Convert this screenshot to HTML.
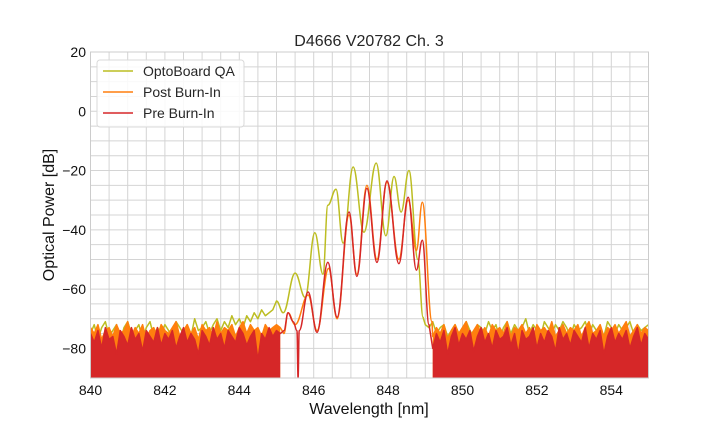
<!DOCTYPE html>
<html><head><meta charset="utf-8">
<style>
html,body{margin:0;padding:0;background:#fff;}
svg{display:block;font-family:"Liberation Sans",Arial,sans-serif;}
</style></head>
<body>
<svg id="chart" width="720" height="432" viewBox="0 0 720 432" xmlns="http://www.w3.org/2000/svg">
<defs><clipPath id="clip"><rect x="90.5" y="52" width="558" height="326"/></clipPath></defs>
<g id="grid"></g>
<g id="series" clip-path="url(#clip)"></g>
<rect x="90.5" y="52" width="558" height="326" fill="none" stroke="#cccccc" stroke-width="1"/>
<g id="ticks"></g>
<text x="369" y="46" text-anchor="middle" font-size="16" fill="#262626">D4666 V20782 Ch. 3</text>
<text x="369" y="414" text-anchor="middle" font-size="16" fill="#111">Wavelength [nm]</text>
<text transform="translate(54,215) rotate(-90)" text-anchor="middle" font-size="16" fill="#111">Optical Power [dB]</text>
<g>
<rect x="97" y="60" width="147" height="67" rx="3" fill="#fff" fill-opacity="0.85" stroke="#d9d9d9"/>
<g><line x1="103" y1="71" x2="133" y2="71" stroke="#bcbd22" stroke-width="1.5"/><text x="143" y="76" font-size="14" fill="#262626">OptoBoard QA</text></g>
<g><line x1="103" y1="92" x2="133" y2="92" stroke="#ff7f0e" stroke-width="1.5"/><text x="143" y="97" font-size="14" fill="#262626">Post Burn-In</text></g>
<g><line x1="103" y1="113" x2="133" y2="113" stroke="#d62728" stroke-width="1.5"/><text x="143" y="118" font-size="14" fill="#262626">Pre Burn-In</text></g>
</g>
</svg>
<script>
// ---- data ----
const xTicks = [840,842,844,846,848,850,852,854];
const yTicks = [20,0,-20,-40,-60,-80];
const noiseStep = 0.1;
const noiseFloor = -91;
const qaLeftStart = 840.0;
const qaLeftNoise = [-75,-72,-77,-73,-71,-76,-74,-72,-78,-73,-71,-75,-74,-72,-77,-73,-71,-76,-73,-75,-72,-74,-77,-71,-73,-75,-72,-76,-70,-74,-73,-71,-75,-72,-70,-74,-71,-73,-69,-72,-70,-73,-69,-71,-68,-70,-67,-69,-68,-67];
const qaPeakX = [845.0,845.18,845.5,845.77,846.03,846.25,846.38,846.6,846.79,847.06,847.35,847.68,847.94,848.16,848.35,848.56,848.8,848.94];
const qaPeakY = [-64,-68,-54.6,-62.8,-41,-55,-31.7,-26.3,-44.5,-18.8,-40.8,-17.5,-42,-22,-34,-20,-50,-69.5];
const qaRightStart = 849.0;
const qaRightNoise = [-72,-73,-71,-75,-73,-72,-76,-74,-72,-75,-73,-71,-74,-76,-72,-73,-75,-71,-74,-72,-77,-73,-71,-75,-72,-74,-73,-70,-75,-72,-74,-76,-71,-73,-75,-72,-74,-71,-73,-76,-72,-74,-73,-71,-75,-72,-74,-73,-76,-71,-73,-75,-72,-74,-73,-71,-75,-72,-74,-73,-72];

const postLeftStart = 840.0;
const postLeftTop = [-73,-75,-72,-77,-74,-73,-76,-72,-75,-74,-71,-76,-73,-75,-72,-77,-74,-73,-76,-72,-74,-75,-73,-71,-76,-74,-72,-75,-73,-77,-72,-74,-73,-76,-71,-75,-73,-74,-72,-76,-73,-71,-75,-72,-74,-73,-76,-72,-74,-73,-72,-73];
const postPeakX = [845.2,845.31,845.5,845.85,846.09,846.4,846.63,846.95,847.16,847.43,847.7,847.97,848.29,848.54,848.76,848.92,849.18];
const postPeakY = [-75,-68,-72,-62,-74,-53,-70,-35,-55,-25,-50,-24,-50,-30,-47,-30.7,-71];
const postRightStart = 849.2;
const postRightTop = [-76,-73,-75,-72,-77,-74,-72,-75,-73,-71,-76,-74,-72,-75,-73,-76,-72,-74,-73,-75,-71,-76,-73,-74,-72,-75,-73,-77,-72,-74,-73,-75,-71,-76,-74,-72,-75,-73,-74,-72,-76,-73,-71,-75,-74,-72,-76,-73,-74,-72,-75,-73,-71,-76,-74,-72,-75,-73,-74];

const preLeftStart = 840.0;
const preLeftTop = [-75,-78,-74,-80,-73,-77,-76,-82,-74,-76,-79,-73,-77,-75,-81,-74,-76,-78,-73,-79,-75,-77,-74,-80,-76,-73,-78,-75,-77,-82,-74,-76,-79,-73,-77,-75,-80,-74,-76,-78,-73,-75,-79,-76,-74,-84,-75,-77,-73,-76,-74,-75];
const prePeakX = [845.2,845.31,845.45,845.55,845.58,845.61,845.85,846.09,846.38,846.63,846.95,847.16,847.43,847.7,847.97,848.29,848.54,848.76,848.92,849.1];
const prePeakY = [-74,-68,-71,-74,-90,-74,-61,-74.6,-51,-69.5,-34,-55.7,-26,-51,-23.5,-51.4,-29,-53.6,-43.5,-72];
const preRightStart = 849.2;
const preRightTop = [-80,-75,-78,-74,-82,-76,-73,-79,-75,-77,-74,-81,-76,-73,-78,-75,-80,-74,-77,-76,-73,-79,-75,-82,-74,-77,-76,-73,-80,-75,-78,-74,-76,-81,-73,-77,-75,-79,-74,-76,-78,-73,-80,-75,-77,-74,-82,-76,-73,-78,-75,-77,-74,-80,-76,-73,-79,-75,-77];

// ---- axes ----
const X0=840,X1=855,PX0=90.5,PX1=648.5;
const Y0=-90,Y1=20,PY0=378,PY1=52;
function sx(v){return PX0+(v-X0)/(X1-X0)*(PX1-PX0);}
function sy(v){return PY0-(v-Y0)/(Y1-Y0)*(PY0-PY1);}
const NS='http://www.w3.org/2000/svg';
function mk(tag,attrs,parent){const e=document.createElementNS(NS,tag);for(const k in attrs)e.setAttribute(k,attrs[k]);parent.appendChild(e);return e;}

const grid=document.getElementById('grid');
for(let v=840;v<=855.001;v+=0.5){const l=mk('line',{x1:sx(v),x2:sx(v),y1:PY1,y2:PY0,stroke:'#d4d4d4','stroke-width':1},grid);

}
for(let v=-90;v<=20.001;v+=5){const l=mk('line',{x1:PX0,x2:PX1,y1:sy(v),y2:sy(v),stroke:'#d4d4d4','stroke-width':1},grid);

}
const ticks=document.getElementById('ticks');
xTicks.forEach(v=>{const t=mk('text',{x:sx(v),y:395,'text-anchor':'middle','font-size':14,fill:'#111'},ticks);t.textContent=v;

});
yTicks.forEach(v=>{const t=mk('text',{x:86,y:sy(v)+5,'text-anchor':'end','font-size':14,fill:'#111'},ticks);t.textContent=(v<0?'\u2212'+(-v):v);

});

function f(n){return n.toFixed(2);}
function smooth(pts){ // zero-slope at each extremum point
  let d='';
  for(let i=0;i<pts.length-1;i++){
    const p1=pts[i],p2=pts[i+1],dx=(p2[0]-p1[0])*0.4;
    d+='C'+f(p1[0]+dx)+','+f(p1[1])+' '+f(p2[0]-dx)+','+f(p2[1])+' '+f(p2[0])+','+f(p2[1]);
  }
  return d;
}
function noisePts(start,vals){return vals.map((v,i)=>[sx(start+i*noiseStep),sy(v)]);}
function seriesPath(left,peak,right){
  return 'M'+left.map(p=>f(p[0])+','+f(p[1])).join('L')+'L'+f(peak[0][0])+','+f(peak[0][1])+smooth(peak)+'L'+right.map(p=>f(p[0])+','+f(p[1])).join('L');
}
function band(pts){
  const b=sy(noiseFloor);
  return 'M'+f(pts[0][0])+','+f(b)+'L'+pts.map(p=>f(p[0])+','+f(p[1])).join('L')+'L'+f(pts[pts.length-1][0])+','+f(b)+'Z';
}
const S=document.getElementById('series');
function drawSeries(name,color,ls,lv,px,py,rs,rv,filled){
  const left=noisePts(ls,lv),right=noisePts(rs,rv);
  const peak=px.map((x,i)=>[sx(x),sy(py[i])]);
  if(filled){
    const b1=mk('path',{d:band(left),fill:color,stroke:'none'},S);
    
    
    const b2=mk('path',{d:band(right),fill:color,stroke:'none'},S);
    
    
  }
  const p=mk('path',{d:seriesPath(left,peak,right),fill:'none',stroke:color,'stroke-width':1.5,'stroke-linejoin':'round'},S);
  
  
}
drawSeries('optoboard-qa','#bcbd22',qaLeftStart,qaLeftNoise,qaPeakX,qaPeakY,qaRightStart,qaRightNoise,false);
drawSeries('post-burn-in','#ff7f0e',postLeftStart,postLeftTop,postPeakX,postPeakY,postRightStart,postRightTop,true);
drawSeries('pre-burn-in','#d62728',preLeftStart,preLeftTop,prePeakX,prePeakY,preRightStart,preRightTop,true);
</script>
</body></html>
